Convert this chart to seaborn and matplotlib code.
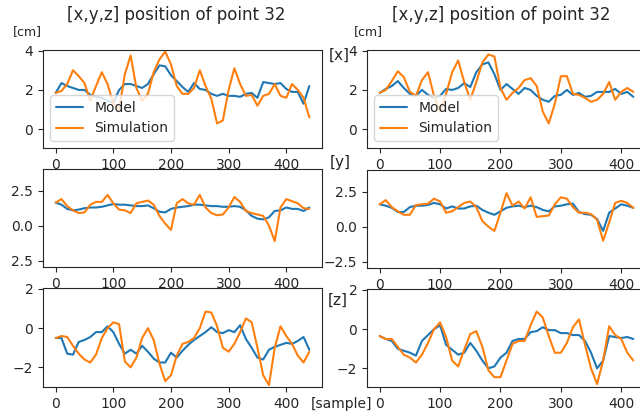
import matplotlib
matplotlib.use("Agg")
import matplotlib.pyplot as plt
import seaborn as sns

sns.set_style("ticks")
plt.rcParams["font.family"] = ["DejaVu Sans"]

# ---- data: position of point 32, model vs. simulation (cm) ----
samples_left = list(range(0, 450, 10))
samples_right = list(range(0, 430, 10))

left_x_model = [1.85, 2.35, 2.2, 2.1, 2.0, 2.0, 1.75, 1.65, 1.6, 1.45, 1.35, 2.0, 2.3, 2.3, 2.2,
                2.1, 2.3, 2.8, 3.25, 3.2, 2.75, 2.45, 2.15, 1.9, 2.35, 2.05, 2.0, 1.8, 1.7, 1.8,
                1.7, 1.7, 1.65, 1.8, 1.85, 1.6, 2.4, 2.35, 2.3, 2.35, 2.05, 1.9, 1.9, 1.3, 2.2]
left_x_sim = [1.85, 1.95, 2.3, 3.0, 2.7, 2.35, 1.45, 2.2, 2.9, 2.3, 1.3, 1.0, 2.8, 3.75, 2.1,
              1.45, 1.8, 2.9, 3.55, 3.95, 3.3, 2.2, 1.8, 1.8, 2.1, 3.0, 2.2, 1.55, 0.3, 0.45,
              2.0, 3.1, 2.3, 1.7, 1.75, 1.2, 1.7, 1.8, 2.3, 1.7, 1.6, 2.3, 2.0, 1.6, 0.6]
left_y_model = [1.65, 1.5, 1.2, 1.1, 1.15, 1.25, 1.3, 1.3, 1.35, 1.45, 1.55, 1.5, 1.5, 1.45, 1.4,
                1.4, 1.45, 1.25, 1.0, 0.95, 1.2, 1.3, 1.35, 1.4, 1.5, 1.5, 1.45, 1.4, 1.4, 1.35,
                1.35, 1.4, 1.35, 1.1, 0.7, 0.5, 0.45, 0.6, 1.05, 1.1, 1.3, 1.2, 1.2, 1.05, 1.3]
left_y_sim = [1.65, 1.9, 1.4, 1.1, 0.9, 0.95, 1.5, 1.7, 1.7, 2.2, 1.6, 1.15, 1.1, 0.9, 1.6,
              1.7, 1.8, 1.5, 0.7, 0.15, -0.3, 1.6, 1.9, 1.6, 1.5, 2.2, 1.3, 0.9, 0.75, 0.8,
              1.3, 2.05, 1.7, 1.05, 0.9, 0.8, 0.7, 0.0, -1.1, 1.3, 1.9, 1.75, 1.6, 1.25, 1.2]
left_z_model = [-0.5, -0.5, -1.3, -1.35, -0.7, -0.6, -0.45, -0.2, -0.2, 0.1, -0.2, -0.8, -1.3, -1.1, -1.3,
                -0.9, -1.2, -1.55, -1.75, -1.75, -1.25, -1.5, -1.15, -0.85, -0.6, -0.4, -0.2, 0.05, -0.2, -0.25,
                -0.1, -0.2, 0.15, -0.55, -1.0, -1.5, -1.6, -1.1, -0.95, -0.85, -0.75, -0.8, -0.65, -0.45, -1.1]
left_z_sim = [-0.5, -0.4, -0.45, -0.9, -1.3, -1.6, -1.75, -1.35, -0.5, 0.0, 0.3, 0.2, -1.7, -2.0, -1.5,
              -0.5, 0.0, -0.6, -1.8, -2.7, -2.4, -1.4, -0.8, -0.7, -0.5, 0.0, 0.85, 0.8, 0.1, -1.0,
              -1.2, -0.8, -0.2, 0.5, 0.3, -1.0, -2.4, -2.9, -1.0, 0.1, -0.4, -0.8, -1.4, -1.75, -1.2]

right_x_model = [1.85, 2.05, 2.2, 2.45, 2.1, 1.8, 1.7, 2.0, 1.75, 1.6, 1.7, 2.05, 2.0, 2.1, 2.35,
                 2.15, 2.9, 3.3, 3.4, 2.8, 2.0, 2.3, 2.05, 1.8, 2.1, 2.0, 1.7, 1.5, 1.4, 1.7,
                 1.75, 2.0, 1.75, 1.85, 1.65, 1.7, 1.9, 1.9, 1.9, 2.05, 1.8, 1.9, 1.65]
right_x_sim = [1.85, 2.0, 2.45, 2.95, 2.65, 1.9, 1.7, 2.5, 2.9, 1.7, 0.9, 1.8, 2.9, 3.5, 2.4,
               1.5, 2.4, 3.4, 3.8, 3.7, 2.1, 1.5, 1.85, 2.1, 2.5, 2.6, 2.2, 0.9, 0.3, 1.3,
               2.7, 2.7, 1.8, 1.75, 1.6, 1.4, 1.5, 1.8, 2.4, 1.5, 1.9, 2.1, 1.9]
right_y_model = [1.6, 1.5, 1.35, 1.05, 1.05, 1.4, 1.5, 1.5, 1.55, 1.7, 1.6, 1.3, 1.45, 1.3, 1.3,
                 1.45, 1.5, 1.2, 1.0, 0.85, 1.1, 1.35, 1.45, 1.5, 1.4, 1.5, 1.4, 1.2, 1.1, 1.45,
                 1.5, 1.6, 1.65, 1.05, 0.9, 0.85, 0.55, -0.3, 1.0, 1.3, 1.6, 1.5, 1.35]
right_y_sim = [1.6, 1.9, 1.4, 1.1, 0.85, 0.85, 1.55, 1.6, 1.65, 2.0, 1.8, 1.0, 1.1, 1.4, 1.7,
               1.8, 1.4, 0.4, 0.0, -0.3, 1.0, 2.4, 1.5, 1.8, 1.3, 2.1, 0.7, 0.75, 0.8, 1.6,
               2.1, 2.0, 1.4, 1.0, 1.0, 0.9, 0.5, -1.0, 0.3, 1.7, 1.85, 1.7, 1.35]
right_z_model = [-0.35, -0.5, -0.6, -1.0, -1.1, -1.2, -1.35, -0.6, -0.3, 0.0, 0.2, -0.8, -1.05, -1.3, -1.2,
                 -0.7, -1.1, -1.6, -2.0, -1.9, -1.45, -1.2, -0.6, -0.5, -0.5, -0.15, -0.1, 0.1, -0.05, -0.05,
                 -0.2, -0.2, -0.3, -0.3, -0.6, -1.2, -2.0, -1.6, -0.35, -0.4, -0.45, -0.4, -0.5]
right_z_sim = [-0.35, -0.5, -0.5, -0.9, -1.3, -1.45, -1.7, -1.3, -0.7, 0.0, 0.35, -0.4, -1.6, -1.9, -1.05,
               -0.25, -0.1, -0.9, -2.1, -2.45, -2.45, -1.6, -0.75, -0.6, -0.6, 0.2, 0.9, 0.6, -0.35, -1.2,
               -1.2, -0.7, 0.1, 0.5, -0.8, -2.0, -2.8, -1.6, 0.15, -0.3, -0.5, -1.2, -1.6]

x_ticks = [0, 100, 200, 300, 400]
row_yticks = [[0, 2, 4], [-2.5, 0, 2.5], [-2, 0, 2]]
left_row_ylims = [(-0.95, 4.03), (-2.95, 4.05), (-3.0, 2.05)]
right_row_ylims = [(-0.95, 4.03), (-2.95, 4.05), (-2.95, 2.05)]

MODEL_COLOR = "#1f77b4"
SIM_COLOR = "#ff7f0e"

W, H = 640, 417
fig = plt.figure(figsize=(W / 100, H / 100), dpi=100)


def box(x0, y0, x1, y1):
    """Axes rectangle from pixel edges (origin at the top-left)."""
    return [x0 / W, 1 - y1 / H, (x1 - x0) / W, (y1 - y0) / H]


rows_px = [(50, 148), (169, 267), (288, 387)]


def panel(rect, samples, model, sim, ylim, yticks, xlim, with_legend, ytick_labels=None):
    ax = fig.add_axes(rect)
    if with_legend:
        sns.lineplot(x=samples, y=model, ax=ax, color=MODEL_COLOR, linewidth=1.5, label="Model")
        sns.lineplot(x=samples, y=sim, ax=ax, color=SIM_COLOR, linewidth=1.5, label="Simulation")
        ax.legend(loc="lower left", fontsize=10)
    else:
        sns.lineplot(x=samples, y=model, ax=ax, color=MODEL_COLOR, linewidth=1.5)
        sns.lineplot(x=samples, y=sim, ax=ax, color=SIM_COLOR, linewidth=1.5)
    ax.set_xlim(*xlim)
    ax.set_ylim(*ylim)
    ax.set_xticks(x_ticks)
    if ytick_labels is None:
        ax.set_yticks(yticks)
    else:
        ax.set_yticks(yticks, labels=ytick_labels)
    ax.tick_params(labelsize=10)
    ax.set_xlabel("")
    ax.set_ylabel("")
    return ax


left_series = [(left_x_model, left_x_sim), (left_y_model, left_y_sim), (left_z_model, left_z_sim)]
right_series = [(right_x_model, right_x_sim), (right_y_model, right_y_sim), (right_z_model, right_z_sim)]

for i, ((y0, y1), (m, s)) in enumerate(zip(rows_px, left_series)):
    labels = ["2.5", "0.0", "2.5"] if i == 1 else None
    panel(box(43, y0, 322, y1), samples_left, m, s, left_row_ylims[i], row_yticks[i],
          (-22, 462), i == 0, labels)

for i, ((y0, y1), (m, s)) in enumerate(zip(rows_px, right_series)):
    panel(box(367, y0 + (1 if i else 0), 646, y1 + (1 if i == 1 else 0)), samples_right, m, s,
          right_row_ylims[i], row_yticks[i], (-21, 441), i == 0)


def label(px, py, text, size):
    fig.text(px / W, 1 - py / H, text, ha="center", va="center", fontsize=size, color=".15")


label(176, 15, "[x,y,z] position of point 32", 12)
label(501, 15, "[x,y,z] position of point 32", 12)
label(27, 32, "[cm]", 9)
label(368, 32, "[cm]", 9)
label(339, 55, "[x]", 11)
label(340, 163, "[y]", 11)
label(338, 300, "[z]", 11)
label(341, 404, "[sample]", 10)

fig.savefig("out.png", dpi=100)
